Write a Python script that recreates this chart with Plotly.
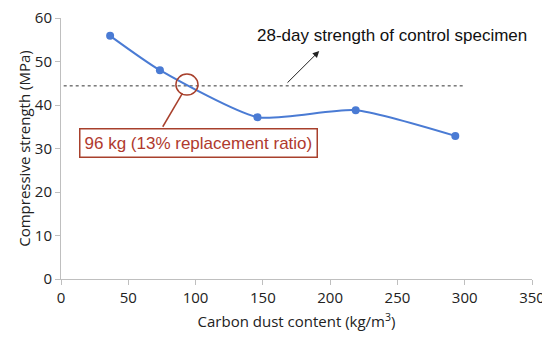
import plotly.graph_objects as go

content = [36.5, 73.5, 146, 219, 293]
strength = [55.9, 48.0, 37.2, 38.8, 32.9]
control_x = [2, 300]
control_y = [44.4, 44.4]
x_ticks = [0, 50, 100, 150, 200, 250, 300, 350]
y_ticks = [0, 10, 20, 30, 40, 50, 60]

fig = go.Figure()
fig.add_trace(go.Scatter(x=control_x, y=control_y, mode="lines",
                         line=dict(color="#333333", width=1, dash="dot"), showlegend=False))
fig.add_trace(go.Scatter(x=content, y=strength, mode="lines+markers",
                         line=dict(color="#4a7bd4", width=2, shape="spline", smoothing=0.6),
                         marker=dict(color="#4a7bd4", size=8), showlegend=False))

axis_font = dict(family="Open Sans, Liberation Sans, sans-serif", size=15, color="#222222")
title_font = dict(family="Open Sans, Liberation Sans, sans-serif", size=15, color="#222222")
# page body has an 8px margin, so the figure is 8px smaller and margins shifted
fig.update_layout(
    width=542, height=331,
    margin=dict(l=53, r=18, t=10, b=60),
    paper_bgcolor="white", plot_bgcolor="white",
    xaxis=dict(range=[0, 350], tickvals=x_ticks, showgrid=False, zeroline=False, automargin=False,
               showline=True, linecolor="#bfbfbf", linewidth=1, ticks="outside",
               tickcolor="#bfbfbf", ticklen=5, tickfont=axis_font, ticklabeloverflow="allow",
               title=dict(text="Carbon dust content (kg/m<sup>3</sup>)", font=title_font, standoff=10)),
    yaxis=dict(range=[0, 60], tickvals=y_ticks, showgrid=False, zeroline=False, automargin=False,
               showline=True, linecolor="#bfbfbf", linewidth=1, ticks="outside",
               tickcolor="#bfbfbf", ticklen=5, tickfont=axis_font, ticklabeloverflow="allow",
               title=dict(text="Compressive strength (MPa)", font=title_font, standoff=0)),
)

# circle around intersection
fig.add_shape(type="circle", xref="x", yref="y", x0=85.4, x1=101.8, y0=42.3, y1=47.1,
              line=dict(color="#a8402c", width=1.5))
# connector from box to circle
fig.add_shape(type="line", xref="x", yref="y", x0=75.6, y0=35.0, x1=90.2, y1=42.7,
              line=dict(color="#a8402c", width=1.5))
fig.add_annotation(x=102, y=31.3, xref="x", yref="y", text="96 kg (13% replacement ratio)",
                   showarrow=False, font=dict(family="Liberation Sans, Arial, sans-serif", size=17, color="#b03a2e"),
                   bgcolor="white", bordercolor="#a8402c", borderwidth=1.5, borderpad=4)
# arrow to control line
fig.add_annotation(x=191.9, y=52.4, ax=167.2, ay=44.8, xref="x", yref="y", axref="x", ayref="y",
                   text="", showarrow=True, arrowhead=2, arrowsize=1.3, arrowwidth=1, arrowcolor="#222222")
fig.add_annotation(x=144, y=55.9, xref="x", yref="y", text="28-day strength of control specimen",
                   showarrow=False, xanchor="left",
                   font=dict(family="Liberation Sans, Arial, sans-serif", size=17, color="#111111"))

fig.write_html("out.html")
